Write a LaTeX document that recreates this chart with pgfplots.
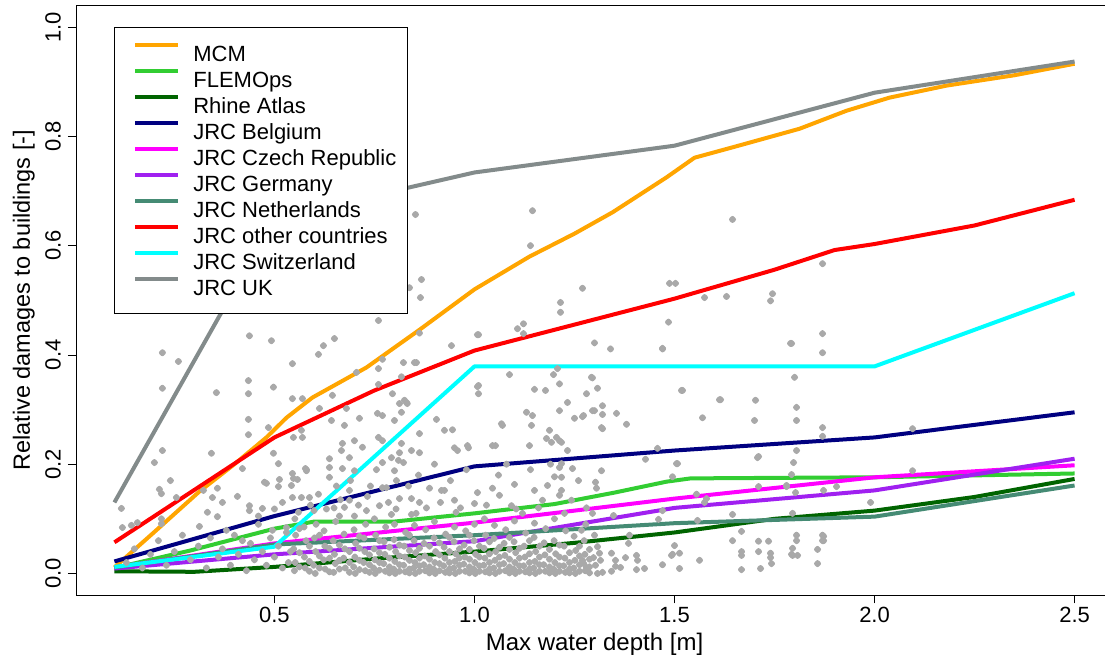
\documentclass[border=0pt]{standalone}
\usepackage{fontspec}
\setmainfont{Liberation Sans}
\usepackage{pgfplots}
\pgfplotsset{compat=1.18}
\usepackage{pgfplotstable}
\definecolor{cMCM}{HTML}{FFA500}
\definecolor{cFLE}{HTML}{32CD32}
\definecolor{cRhine}{HTML}{006400}
\definecolor{cBE}{HTML}{000080}
\definecolor{cCZ}{HTML}{FF00FF}
\definecolor{cDE}{HTML}{A020F0}
\definecolor{cNL}{HTML}{458B74}
\definecolor{cOther}{HTML}{FF0000}
\definecolor{cCH}{HTML}{00FFFF}
\definecolor{cUK}{HTML}{838B8B}
\definecolor{cPts}{HTML}{A9A9A9}

\pgfplotstableread{
x y
0.8525 0.657
1.145 0.664
1.14 0.600
1.645 0.648
0.8675 0.538
0.8375 0.523
0.865 0.505
1.27 0.522
1.4875 0.531
1.5025 0.531
1.575 0.505
1.63 0.507
1.745 0.512
1.74 0.499
1.87 0.567
1.215 0.496
1.215 0.478
1.1075 0.448
1.1225 0.457
1.1225 0.439
1.485 0.460
0.76 0.463
0.65 0.430
0.8625 0.440
1.0075 0.437
0.9425 0.417
1.30 0.422
1.34 0.411
1.47 0.411
1.79 0.421
1.87 0.439
1.87 0.404
1.295 0.358
1.3075 0.339
1.80 0.359
1.5175 0.335
0.77 0.392
0.76 0.375
0.8225 0.386
0.855 0.386
0.8175 0.360
0.76 0.346
1.0075 0.342
1.0875 0.364
1.1975 0.364
1.2075 0.375
1.2125 0.347
0.705 0.368
0.4375 0.435
0.4925 0.426
0.22 0.404
0.26 0.388
0.545 0.384
0.61 0.401
0.6225 0.417
0.435 0.353
0.4975 0.341
0.22 0.339
0.355 0.331
0.435 0.329
0.545 0.320
0.57 0.320
0.645 0.326
0.22 0.225
0.20 0.203
0.3425 0.220
0.435 0.282
0.435 0.254
0.485 0.267
0.4975 0.220
0.5475 0.249
0.57 0.249
0.5675 0.262
0.6125 0.302
0.68 0.302
0.6425 0.280
0.6675 0.225
0.545 0.183
0.5475 0.174
0.5775 0.192
0.48 0.165
0.51 0.159
0.6375 0.176
0.6875 0.212
0.72 0.231
0.7125 0.284
0.7575 0.293
0.76 0.249
0.77 0.203
0.80 0.188
0.825 0.317
0.85 0.386
0.51 0.201
0.42 0.192
0.58 0.190
0.24 0.170
0.2125 0.154
0.2175 0.146
0.3575 0.156
0.3225 0.152
0.475 0.167
0.5125 0.172
0.5425 0.161
0.5575 0.172
0.58 0.188
0.4075 0.141
0.345 0.139
0.545 0.139
0.5675 0.139
0.5875 0.139
0.37 0.130
0.255 0.139
0.4375 0.124
0.4375 0.115
0.3325 0.112
0.3575 0.104
0.47 0.119
0.1175 0.119
0.12 0.084
0.1425 0.088
0.1575 0.093
0.2175 0.100
0.2175 0.091
0.3125 0.086
0.38 0.079
0.42 0.060
0.495 0.079
0.53 0.084
0.6375 0.194
0.6875 0.134
0.73 0.115
0.77 0.157
0.7925 0.212
0.8175 0.238
0.8425 0.225
0.8425 0.108
0.7925 0.108
0.795 0.329
0.8125 0.311
0.832 0.311
0.8175 0.295
0.80 0.280
0.675 0.271
0.70 0.243
0.67 0.238
0.77 0.243
0.6375 0.210
0.67 0.192
0.70 0.188
0.77 0.289
0.8625 0.256
0.8625 0.221
0.8125 0.221
0.8225 0.203
0.81 0.207
0.925 0.262
0.9575 0.225
0.9825 0.234
1.045 0.234
1.07 0.271
1.13 0.295
1.1425 0.271
1.1375 0.234
1.1875 0.262
1.2125 0.243
1.2325 0.225
1.245 0.192
1.2125 0.194
1.20 0.177
1.10 0.163
1.045 0.156
1.0075 0.148
0.95 0.134
0.9175 0.152
0.8875 0.156
0.8625 0.130
0.8125 0.137
0.78 0.157
0.7325 0.141
0.6875 0.152
0.675 0.121
0.7625 0.124
0.8425 0.137
0.925 0.152
1.00 0.128
1.0625 0.143
1.0925 0.124
1.15 0.152
1.1825 0.161
1.2125 0.143
1.2425 0.134
1.17 0.134
1.01 0.437
1.01 0.344
1.01 0.329
0.945 0.263
0.905 0.282
0.83 0.313
0.985 0.230
0.95 0.230
1.0525 0.234
1.0675 0.274
1.145 0.289
1.15 0.337
1.1775 0.335
1.2125 0.298
1.2325 0.313
1.25 0.284
1.27 0.287
1.2925 0.359
1.295 0.298
1.18 0.247
1.2175 0.240
1.1925 0.240
1.205 0.249
1.2175 0.176
1.2175 0.152
1.2175 0.201
1.3175 0.267
1.38 0.273
1.355 0.293
1.47 0.412
1.52 0.335
1.57 0.285
1.615 0.318
1.7025 0.317
1.7075 0.212
1.495 0.177
1.505 0.201
1.805 0.280
1.805 0.304
1.28 0.329
1.6125 0.318
1.2725 0.289
1.30 0.298
1.32 0.307
1.32 0.291
1.32 0.265
1.70 0.280
1.4575 0.229
1.4275 0.209
1.5075 0.201
1.805 0.225
1.7975 0.203
1.71 0.214
1.3175 0.188
1.3025 0.167
1.305 0.156
1.555 0.145
1.575 0.130
1.58 0.137
1.295 0.110
1.3475 0.106
1.46 0.099
1.47 0.115
1.5575 0.097
1.645 0.108
1.6675 0.077
1.71 0.159
1.78 0.159
1.8025 0.148
1.2675 0.079
1.30 0.070
1.3875 0.070
1.385 0.055
1.3075 0.049
1.3125 0.037
1.2975 0.029
1.315 0.024
1.3025 0.015
1.3425 0.037
1.3525 0.024
1.3525 0.013
1.3775 0.029
1.405 0.033
1.4075 0.024
1.50 0.051
1.495 0.035
1.5125 0.037
1.4925 0.033
1.5625 0.024
1.645 0.060
1.6675 0.033
1.6675 0.040
1.71 0.059
1.71 0.040
1.735 0.059
1.74 0.037
1.74 0.029
1.7425 0.018
1.795 0.033
1.8075 0.033
1.8575 0.044
1.8575 0.018
1.8725 0.068
1.8725 0.060
1.47 0.016
1.425 0.009
1.405 0.007
1.5125 0.009
1.6675 0.007
1.715 0.009
1.32 0.002
1.3425 0.004
1.365 0.011
1.3075 0.000
1.28 0.011
1.27 0.024
1.7925 0.421
1.87 0.267
1.87 0.251
1.7925 0.181
1.78 0.161
1.8725 0.152
1.905 0.159
1.795 0.110
1.805 0.070
1.805 0.060
1.87 0.070
1.87 0.060
1.795 0.046
1.7925 0.035
1.99 0.130
2.095 0.265
2.095 0.188
0.13 0.020
0.15 0.045
0.17 0.010
0.19 0.035
0.21 0.060
0.23 0.015
0.25 0.040
0.27 0.070
0.29 0.025
0.31 0.050
0.33 0.010
0.34 0.065
0.36 0.030
0.37 0.045
0.39 0.015
0.40 0.070
0.41 0.035
0.43 0.005
0.44 0.055
0.45 0.025
0.46 0.090
0.47 0.040
0.48 0.015
0.49 0.065
0.50 0.030
0.51 0.050
0.52 0.010
0.53 0.075
0.54 0.040
0.535 0.020
0.55 0.005
0.552 0.020
0.548 0.045
0.553 0.070
0.551 0.100
0.577 0.010
0.575 0.030
0.579 0.060
0.574 0.085
0.602 0.000
0.598 0.015
0.603 0.040
0.600 0.065
0.604 0.090
0.599 0.115
0.627 0.008
0.623 0.025
0.626 0.050
0.624 0.078
0.648 0.002
0.652 0.018
0.650 0.035
0.647 0.060
0.653 0.095
0.649 0.120
0.677 0.010
0.673 0.028
0.676 0.045
0.674 0.072
0.702 0.000
0.698 0.012
0.701 0.030
0.703 0.055
0.699 0.080
0.700 0.105
0.727 0.005
0.723 0.020
0.726 0.040
0.724 0.065
0.728 0.090
0.752 0.000
0.748 0.010
0.751 0.025
0.749 0.045
0.753 0.070
0.750 0.100
0.777 0.004
0.773 0.018
0.776 0.035
0.774 0.058
0.778 0.085
0.802 0.000
0.798 0.008
0.801 0.022
0.803 0.040
0.799 0.062
0.800 0.090
0.804 0.118
0.827 0.003
0.823 0.015
0.826 0.030
0.824 0.050
0.828 0.075
0.852 0.000
0.848 0.010
0.851 0.020
0.853 0.038
0.849 0.060
0.850 0.088
0.854 0.110
0.877 0.005
0.873 0.016
0.876 0.032
0.874 0.055
0.878 0.080
0.902 0.000
0.898 0.008
0.901 0.020
0.903 0.040
0.899 0.065
0.900 0.095
0.927 0.002
0.923 0.014
0.926 0.028
0.924 0.048
0.928 0.072
0.952 0.000
0.948 0.010
0.951 0.022
0.953 0.036
0.949 0.058
0.950 0.085
0.954 0.112
0.977 0.004
0.973 0.017
0.976 0.030
0.974 0.052
0.978 0.078
1.002 0.000
0.998 0.008
1.001 0.020
1.003 0.035
0.999 0.060
1.000 0.090
1.027 0.003
1.023 0.015
1.026 0.028
1.024 0.046
1.028 0.070
1.025 0.100
1.052 0.000
1.048 0.010
1.051 0.024
1.053 0.040
1.049 0.064
1.050 0.088
1.077 0.005
1.073 0.018
1.076 0.033
1.074 0.055
1.078 0.080
1.102 0.000
1.098 0.008
1.101 0.020
1.103 0.038
1.099 0.058
1.100 0.096
1.104 0.118
1.127 0.003
1.123 0.014
1.126 0.030
1.124 0.050
1.128 0.074
1.152 0.000
1.148 0.010
1.151 0.022
1.153 0.040
1.149 0.066
1.150 0.092
1.177 0.004
1.173 0.016
1.176 0.034
1.174 0.056
1.178 0.082
1.202 0.000
1.198 0.008
1.201 0.020
1.203 0.036
1.199 0.060
1.200 0.100
1.227 0.002
1.223 0.014
1.226 0.028
1.224 0.050
1.228 0.078
1.225 0.110
1.252 0.000
1.248 0.010
1.251 0.024
1.253 0.042
1.249 0.068
1.277 0.005
1.273 0.018
1.276 0.035
1.274 0.060
1.278 0.090
0.5625 0.012
0.5625 0.038
0.5625 0.082
0.5875 0.004
0.5875 0.022
0.5875 0.050
0.6125 0.010
0.6125 0.032
0.6125 0.070
0.6375 0.003
0.6375 0.028
0.6375 0.046
0.6625 0.008
0.6625 0.024
0.6625 0.052
0.6625 0.105
0.6875 0.002
0.6875 0.020
0.6875 0.040
0.7125 0.007
0.7125 0.024
0.7125 0.046
0.7125 0.068
0.7375 0.002
0.7375 0.016
0.7375 0.034
0.7625 0.006
0.7625 0.020
0.7625 0.038
0.7625 0.060
0.7875 0.001
0.7875 0.012
0.7875 0.028
0.7875 0.048
0.8125 0.004
0.8125 0.016
0.8125 0.032
0.8125 0.052
0.8375 0.001
0.8375 0.008
0.8375 0.024
0.8375 0.042
0.8375 0.070
0.8625 0.004
0.8625 0.014
0.8625 0.028
0.8625 0.046
0.8875 0.001
0.8875 0.012
0.8875 0.026
0.8875 0.050
0.9125 0.005
0.9125 0.018
0.9125 0.034
0.9125 0.056
0.9375 0.001
0.9375 0.008
0.9375 0.020
0.9375 0.040
0.9375 0.066
0.9625 0.004
0.9625 0.015
0.9625 0.028
0.9625 0.045
0.9875 0.001
0.9875 0.012
0.9875 0.026
0.9875 0.044
0.9875 0.070
1.0125 0.004
1.0125 0.014
1.0125 0.030
1.0125 0.050
1.0375 0.001
1.0375 0.008
1.0375 0.020
1.0375 0.036
1.0375 0.058
1.0625 0.004
1.0625 0.016
1.0625 0.030
1.0625 0.048
1.0875 0.001
1.0875 0.012
1.0875 0.026
1.0875 0.044
1.0875 0.066
1.1125 0.004
1.1125 0.014
1.1125 0.028
1.1125 0.046
1.1375 0.001
1.1375 0.008
1.1375 0.020
1.1375 0.036
1.1375 0.060
1.1625 0.004
1.1625 0.016
1.1625 0.030
1.1625 0.050
1.1875 0.001
1.1875 0.012
1.1875 0.026
1.1875 0.044
1.2125 0.004
1.2125 0.014
1.2125 0.030
1.2125 0.052
1.2375 0.001
1.2375 0.008
1.2375 0.020
1.2375 0.038
1.2625 0.004
1.2625 0.016
1.2625 0.032
1.2625 0.050
1.2875 0.001
1.2875 0.012
1.2875 0.026
1.2875 0.044
0.46 0.105
0.50 0.118
0.52 0.130
0.56 0.112
0.59 0.125
0.61 0.145
0.63 0.118
0.655 0.160
0.665 0.135
0.69 0.170
0.71 0.125
0.74 0.160
0.755 0.190
0.785 0.130
0.805 0.170
0.835 0.160
0.86 0.180
0.88 0.120
0.90 0.200
0.915 0.130
0.94 0.170
0.965 0.120
0.98 0.190
1.03 0.125
1.06 0.180
1.08 0.200
1.12 0.110
1.14 0.190
1.16 0.120
1.19 0.200
1.26 0.170
1.28 0.120
}\pts

\pgfplotstableread{
x y
0.1 0.011
0.2 0.076
0.3125 0.150
0.4 0.200
0.48 0.249
0.53 0.285
0.595 0.322
0.73 0.377
0.8625 0.446
1.0 0.520
1.1375 0.580
1.25 0.622
1.345 0.661
1.48 0.725
1.55 0.761
1.65 0.781
1.8125 0.814
1.93 0.847
2.0375 0.871
2.18 0.893
2.35 0.912
2.5 0.933
}\mcm

\pgfplotstableread{
x y
0.1 0.010
0.29 0.042
0.5 0.082
0.6 0.095
0.8 0.095
1.0 0.110
1.2 0.127
1.35 0.148
1.48 0.168
1.54 0.174
1.76 0.175
2.0 0.176
2.5 0.183
}\flemo

\pgfplotstableread{
x y
0.1 0.004
0.3 0.003
0.5 0.012
0.75 0.027
1.0 0.040
1.25 0.056
1.5 0.075
1.75 0.100
2.0 0.115
2.25 0.140
2.5 0.173
}\rhine

\pgfplotstableread{
x y
0.1 0.022
0.5 0.105
1.0 0.196
1.5 0.225
2.0 0.249
2.5 0.295
}\belg

\pgfplotstableread{
x y
0.1 0.011
0.5 0.055
1.0 0.093
1.5 0.137
2.0 0.176
2.5 0.198
}\czech

\pgfplotstableread{
x y
0.1 0.009
0.5 0.035
1.0 0.059
1.5 0.120
2.0 0.152
2.5 0.210
}\germ

\pgfplotstableread{
x y
0.1 0.011
0.5 0.053
1.0 0.070
1.5 0.092
2.0 0.104
2.5 0.161
}\neth

\pgfplotstableread{
x y
0.1 0.057
0.5 0.249
0.75 0.335
1.0 0.408
1.5 0.503
1.75 0.556
1.9 0.592
2.0 0.603
2.25 0.637
2.5 0.684
}\other

\pgfplotstableread{
x y
0.1 0.012
0.5 0.049
1.0 0.379
2.0 0.379
2.5 0.513
}\swiss

\pgfplotstableread{
x y
0.1 0.130
0.5 0.650
1.0 0.734
1.5 0.783
2.0 0.880
2.5 0.937
}\uk

\begin{document}
\begin{tikzpicture}
\useasboundingbox (0,0) rectangle (1105pt,659pt);
\begin{axis}[
  at={(76pt,63.7pt)}, anchor=south west,
  scale only axis, width=1037pt, height=590pt,
  xmin=0.004, xmax=2.596, ymin=-0.04, ymax=1.04,
  xtick={0.5,1.0,1.5,2.0,2.5},
  ytick={0,0.2,0.4,0.6,0.8,1.0},
  xtick pos=left, ytick pos=left,
  tick align=outside, major tick length=8pt,
  tick style={black, line width=0.8pt},
  axis line style={black, line width=0.8pt},
  /pgf/number format/assume math mode=true,
  /pgf/number format/fixed, /pgf/number format/fixed zerofill,
  /pgf/number format/precision=1,
  tick label style={font=\fontsize{22}{26}\selectfont},
  yticklabel style={rotate=90, anchor=south, inner sep=0pt},
  xticklabel style={anchor=north, inner sep=0pt},
  yticklabel shift=7pt,
  xticklabel shift=4pt,
  xlabel={Max water depth [m]},
  ylabel={Relative damages to buildings [-]},
  xlabel style={font=\fontsize{24}{28}\selectfont, at={(axis description cs:0.5,0)}, anchor=base, inner sep=0pt, yshift=-55pt},
  ylabel style={font=\fontsize{23.5}{28}\selectfont, at={(axis description cs:-0.0444,0.5)}, anchor=base, inner sep=0pt, rotate=0},
  legend style={
    at={(axis description cs:0.0366,0.9632)}, anchor=north west,
    draw=black, line width=0.8pt, fill=white,
    inner xsep=11pt, inner ysep=13pt,
    row sep=0pt, column sep=13pt,
    font=\fontsize{22}{26}\selectfont,
    nodes={inner sep=0pt, text height=21pt, text depth=5pt},
  },
  legend cell align=left,
  legend image code/.code={\path (0pt,8pt); \draw[#1, line width=4pt] (8pt,8pt) -- (51pt,8pt);},
  every axis plot/.append style={line width=4pt, line join=round},
]
\addplot[only marks, mark=*, mark size=1.5pt, color=cPts, forget plot] table {\pts};
\addplot[cMCM] table {\mcm};
\addlegendentry{MCM}
\addplot[cFLE] table {\flemo};
\addlegendentry{FLEMOps}
\addplot[cRhine] table {\rhine};
\addlegendentry{Rhine Atlas}
\addplot[cBE] table {\belg};
\addlegendentry{JRC Belgium}
\addplot[cCZ] table {\czech};
\addlegendentry{JRC Czech Republic}
\addplot[cDE] table {\germ};
\addlegendentry{JRC Germany}
\addplot[cNL] table {\neth};
\addlegendentry{JRC Netherlands}
\addplot[cOther] table {\other};
\addlegendentry{JRC other countries}
\addplot[cCH] table {\swiss};
\addlegendentry{JRC Switzerland}
\addplot[cUK] table {\uk};
\addlegendentry{JRC UK}
\end{axis}
\end{tikzpicture}
\end{document}
